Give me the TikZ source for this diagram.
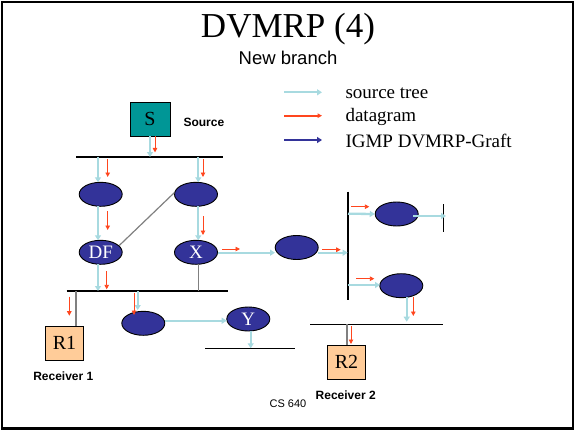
\documentclass[tikz,border=0pt]{standalone}
\usepackage{fontspec}
\setmainfont{Liberation Serif}
\setsansfont{Liberation Sans}
\usetikzlibrary{arrows.meta,calc,shapes.geometric}
\definecolor{lblue}{RGB}{168,218,224}
\definecolor{dred}{RGB}{255,70,30}
\definecolor{rblue}{RGB}{51,51,153}
\definecolor{teal2}{RGB}{0,150,150}
\definecolor{orng}{RGB}{255,204,153}
\definecolor{glink}{RGB}{128,128,128}
\tikzset{
  rtr/.style={ellipse,draw=black,line width=0.9pt,fill=rblue,minimum width=43pt,minimum height=24pt,inner sep=0pt,text=white,font=\fontsize{19}{19}\selectfont},
  hostbox/.style={draw=black,line width=0.9pt,minimum width=38pt,minimum height=34pt,inner sep=0pt,font=\fontsize{20}{20}\selectfont},
  tree/.style={draw=lblue,line width=2.3pt,-{Triangle[length=5pt,width=6pt]}},
  treeline/.style={draw=lblue,line width=2.3pt},
  dgram/.style={draw=dred,line width=0.9pt,-{Triangle[length=4.5pt,width=4.5pt]}},
  graft/.style={draw=rblue,line width=2.2pt,-{Triangle[length=5pt,width=6pt]}},
  bus/.style={draw=black,line width=1.6pt},
  glk/.style={draw=glink,line width=1.2pt},
  lbl/.style={font=\sffamily\bfseries\fontsize{12}{12}\selectfont}
}
\begin{document}
\begin{tikzpicture}[x=1pt,y=-1pt]
\useasboundingbox (0,0) rectangle (575,431);
\draw[line width=2.4pt] (1.8,2) rectangle (573,428.5);
% title
\node (title) at (288,29) {\fontsize{35}{35}\selectfont DVMRP (4)};
\node (sub) at (288,58) {\sffamily\fontsize{18.5}{18.5}\selectfont New branch};
% legend
\coordinate (l1a) at (284,92.3); \coordinate (l1b) at (322,92.3);
\coordinate (l2a) at (284,115.7); \coordinate (l2b) at (322,115.7);
\coordinate (l3a) at (284,140); \coordinate (l3b) at (322,140);
\draw[tree,line width=2pt] (l1a) -- (l1b);
\draw[dgram,line width=1.6pt] (l2a) -- (l2b);
\draw[graft] (l3a) -- (l3b);
\node[anchor=west,font=\fontsize{19}{19}\selectfont] (t1) at (342,93) {source tree};
\node[anchor=west,font=\fontsize{19}{19}\selectfont] (t2) at (342,117) {datagram};
\node[anchor=west,font=\fontsize{19}{19}\selectfont] (t3) at (342,141) {IGMP DVMRP-Graft};
% source
\node[hostbox,fill=teal2,minimum width=40pt] (s) at (150,119) {S};
\node[lbl,anchor=west] (srclbl) at (180,122) {Source};
% buses
\coordinate (b1l) at (76,157); \coordinate (b1r) at (223,157);
\coordinate (b2l) at (66.7,291); \coordinate (b2r) at (228.3,291);
\coordinate (vbt) at (347.7,191.7); \coordinate (vbb) at (347.7,300);
\coordinate (sbt) at (443.3,204.3); \coordinate (sbb) at (443.3,232.3);
\coordinate (b3l) at (310,324.3); \coordinate (b3r) at (443.3,324.3);
\coordinate (ybl) at (205,348.3); \coordinate (ybr) at (295,348.3);
\draw[bus] (b1l) -- (b1r);
\draw[bus] (b2l) -- (b2r);
\draw[bus] (vbt) -- (vbb);
\draw[bus] (sbt) -- (sbb);
\draw[bus] (b3l) -- (b3r);
\draw[bus] (ybl) -- (ybr);
% routers
\node[rtr] (e1) at (100.7,194.3) {};
\node[rtr] (e2) at (196,194.3) {};
\node[rtr] (df) at (100.7,252.3) {DF};
\node[rtr] (x) at (196,252.3) {X};
\node[rtr] (m) at (296.7,247.5) {};
\node[rtr] (ur) at (396.7,214) {};
\node[rtr] (lr) at (401.3,285.7) {};
\node[rtr] (lo) at (143.3,323.3) {};
\node[rtr] (y) at (248.3,319) {Y};
% hosts
\node[hostbox,fill=orng] (r1) at (64.5,343) {R1};
\node[lbl] (r1lbl) at (63.3,376) {Receiver 1};
\node[hostbox,fill=orng] (r2) at (346.5,362) {R2};
\node[lbl] (r2lbl) at (345.7,395) {Receiver 2};
\node[font=\sffamily\fontsize{11}{11}\selectfont] (cs) at (288,403.5) {CS 640};
% source to bus
\draw[tree] (s.south) -- (s.south |- b1l);
\draw[dgram] ([xshift=5pt]s.south) -- ++(0,16);
% left column
\draw[tree] (98,157) -- (98,182.3);
\draw[dgram] (107.7,159) -- (107.7,177);
\draw[tree] (98,206.3) -- (98,240.3);
\draw[dgram] (107.7,211) -- (107.7,230);
\draw[tree] (98,264.3) -- (98,291);
\draw[dgram] (106.7,271) -- (106.7,289.3);
% right column
\draw[tree] (198.3,157) -- (198.3,182.3);
\draw[dgram] (203,159) -- (203,177);
\draw[tree] (198.3,206.3) -- (198.3,240.3);
\draw[dgram] (203,216) -- (203,235);
\draw[glk] (198.3,264.3) -- (198.3,291);
% gray link
\draw[glk] (e2.176) -- (df.20);
% x to m to vbus
\draw[tree] (x.east |- 0,252.7) -- (275,252.7);
\draw[dgram] (222,249) -- (240,249);
\draw[tree] (318,252.7) -- (347.7,252.7);
\draw[dgram] (322,249.7) -- (340.7,249.7);
% vbus to ur
\draw[tree] (348,213.7) -- (ur.west);
\draw[dgram] (351,206.7) -- (369.3,206.7);
\draw[tree] (413,216) -- (446,216);
% vbus to lr
\draw[tree] (348,285) -- (380,285);
\draw[dgram] (356,278.7) -- (374.3,278.7);
\draw[tree] (406.7,297) -- (406.7,321.7);
\draw[dgram] (413.3,297) -- (413.3,316);
% bus3 to r2
\draw[glk,line width=1.6pt] (347,324.3) -- (r2.north -| 347,0);
\draw[dgram] (351,326) -- (351,344);
% bus2 to r1
\draw[glk] (76,291) -- (r1.north -| 76,0);
\draw[dgram] (69.3,296.7) -- (69.3,315.7);
% bus2 to lo
\draw[tree] (137.7,291) -- (137.7,310);
\draw[dgram] (134,292.7) -- (134,315);
% lo to y
\draw[tree] (lo.east |- 0,320.7) -- (226.7,320.7);
\draw[tree] (y.south -| 250.7,0) -- (250.7,348.3);
\end{tikzpicture}
\end{document}
